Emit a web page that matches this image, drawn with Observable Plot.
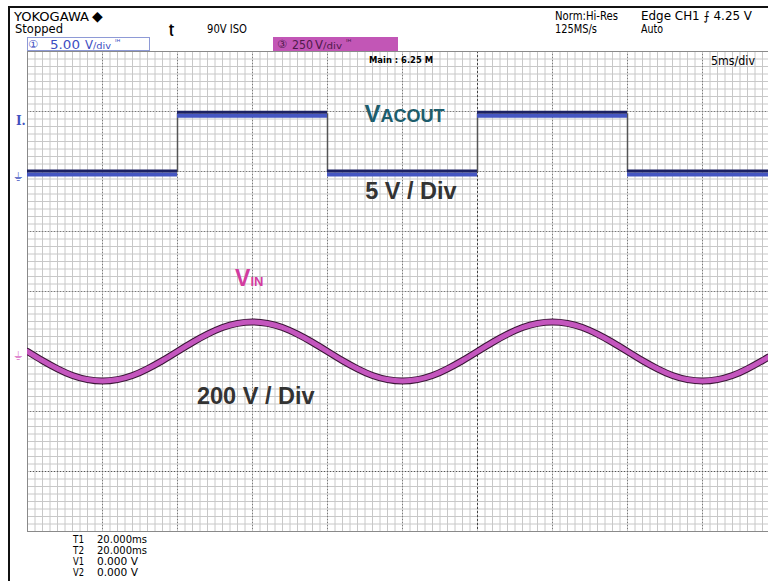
<!DOCTYPE html>
<html><head><meta charset="utf-8">
<script src="https://cdn.jsdelivr.net/npm/d3@7"></script>
<script src="https://cdn.jsdelivr.net/npm/@observablehq/plot@0.6"></script>
<style>
body{margin:0;background:#fff}
#chart svg{display:block}
</style>
</head><body><div id="chart"></div>
<script>
// ---- data ----
const timeMs = [0,1,2,3,4,5,6,7,8,9,10,11,12,13,14,15,16,17,18,19,20,21,22,23,24,25,26,27,28,29,30,31,32,33,34,35,36,37,38,39,40,41,42,43,44,45,46,47,48,49,49.4];
const vinVolts = [0,-38,-72,-100,-117,-123,-117,-100,-72,-38,0,38,72,100,117,123,117,100,72,38,0,-38,-72,-100,-117,-123,-117,-100,-72,-38,0,38,72,100,117,123,117,100,72,38,0,-38,-72,-100,-117,-123,-117,-100,-72,-38,-23];
const vacEdgesMs = [0,10,20,30,40,49.4];
const vacLevelsV = [0,4.9,0,4.9,0];
const ch1VoltsPerDiv = 5, ch1OffsetDiv = 1.983;
const ch3VoltsPerDiv = 250, ch3OffsetDiv = -1.0;
const xMajorMs = [0,5,10,15,20,25,35,40,45];
const xCenterMs = [30];
const yMajorDiv = [-2,-1,0,1,2,3];
const yDarkDiv = [-3];
const bottomLabels = ["T1","T2","V1","V2"];
const bottomValues = ["20.000ms","20.000ms","0.000 V","0.000 V"];

// ---- derived tables ----
const xMinorMs = d3.range(0, 49.5, 0.5);
const yMinorDiv = d3.range(-4, 4.001, 0.125);
const vinTable = timeMs.map((t, i) => ({t, y: ch3OffsetDiv + vinVolts[i] / ch3VoltsPerDiv}));
const vacSegs = vacLevelsV.map((v, i) => ({x1: vacEdgesMs[i], x2: vacEdgesMs[i + 1], y: ch1OffsetDiv + v / ch1VoltsPerDiv}));
const vacEdges = vacEdgesMs.slice(1, -1).map(t => ({t, lo: ch1OffsetDiv, hi: ch1OffsetDiv + d3.max(vacLevelsV) / ch1VoltsPerDiv}));

const plot = Plot.plot({
  width: 768, height: 581,
  marginLeft: 27, marginRight: 0, marginTop: 51, marginBottom: 50,
  x: {domain: [0, 49.4], axis: null},
  y: {domain: [-4, 4], axis: null},
  style: {background: "white", overflow: "visible"},
  marks: [
    Plot.ruleX(xMinorMs, {stroke: "#c8c8c8", strokeWidth: 1}),
    Plot.ruleY(yMinorDiv, {stroke: "#c8c8c8", strokeWidth: 1}),
    Plot.ruleX(xMajorMs, {stroke: "#7a7a7a", strokeWidth: 1, strokeDasharray: "1,2"}),
    Plot.ruleY(yMajorDiv, {stroke: "#7a7a7a", strokeWidth: 1, strokeDasharray: "1,2"}),
    Plot.ruleX(xCenterMs, {stroke: "#444", strokeWidth: 1, strokeDasharray: "2,2"}),
    Plot.ruleY(yDarkDiv, {stroke: "#555", strokeWidth: 1, strokeDasharray: "1,2"}),
    Plot.ruleX([0], {stroke: "#8a8a8a", strokeWidth: 1}),
    Plot.ruleY([-4, 4], {stroke: "#8a8a8a", strokeWidth: 1}),
    // VACOUT trace
    Plot.ruleX(vacEdges, {x: "t", y1: "lo", y2: "hi", stroke: "#555", strokeWidth: 1.5}),
    Plot.ruleY(vacSegs, {x1: "x1", x2: "x2", y: "y", stroke: "#4556c2", strokeWidth: 4, dy: 2}),
    Plot.ruleY(vacSegs, {x1: "x1", x2: "x2", y: "y", stroke: "#1c2162", strokeWidth: 3, dy: -1.5}),
    // VIN trace
    Plot.line(vinTable, {x: "t", y: "y", curve: "natural", stroke: "#3a1636", strokeWidth: 7, clip: true}),
    Plot.line(vinTable, {x: "t", y: "y", curve: "natural", stroke: "#c456be", strokeWidth: 5, clip: true})
  ]
});
document.getElementById("chart").appendChild(plot);

const svg = d3.select(plot);
const g = svg.append("g").attr("text-anchor", "start");
const sx = plot.scale("x"), sy = plot.scale("y");
const UI = "'Liberation Sans Narrow','DejaVu Sans Condensed','Arial Narrow',sans-serif";
const BOLD = "'Liberation Sans',Arial,sans-serif";
function txt(x, y, s, a = {}) {
  const t = g.append("text").attr("x", x).attr("y", y).text(s)
    .attr("font-family", a.ff || UI).attr("font-size", a.fs || 12)
    .attr("fill", a.fill || "#000").attr("font-weight", a.fw || "normal");
  if (a.w) t.attr("textLength", a.w).attr("lengthAdjust", "spacingAndGlyphs");
  return t;
}

// frame
g.append("line").attr("x1", 9).attr("x2", 9).attr("y1", 6).attr("y2", 581).attr("stroke", "#111").attr("stroke-width", 2);
g.append("line").attr("x1", 8).attr("x2", 768).attr("y1", 7).attr("y2", 7).attr("stroke", "#111").attr("stroke-width", 2);

// header
txt(14, 20.5, "YOKOGAWA", {fs: 12, w: 75});
txt(92, 21, "◆", {fs: 14, ff: "'DejaVu Sans',sans-serif"});
txt(15, 33, "Stopped", {fs: 12, w: 48});
txt(169, 33, "ʈ", {fs: 12, fw: "bold"});
txt(207, 33, "90V ISO", {fs: 12, w: 40});
txt(555, 20, "Norm:Hi-Res", {fs: 12, w: 63});
txt(555, 33, "125MS/s", {fs: 12, w: 42});
txt(641, 20, "Edge CH1 ⨍ 4.25 V", {fs: 12, w: 111});
txt(641, 33, "Auto", {fs: 12, w: 22});

// channel boxes
g.append("rect").attr("x", 27.5).attr("y", 37.5).attr("width", 122).attr("height", 13).attr("fill", "white").attr("stroke", "#8e9ad6");
const blue = "#3d4dc2";
txt(28, 48, "①", {fs: 11, fill: blue, ff: "'DejaVu Sans',sans-serif"});
txt(50, 48.5, "5.00", {fs: 13, fill: blue, w: 30});
txt(85, 48.5, "V", {fs: 13, fill: blue, w: 8});
txt(93, 48.5, "/div", {fs: 9, fill: blue, w: 18});
txt(115, 45, "ᴵᴴ", {fs: 8, fill: blue, ff: "'DejaVu Sans',sans-serif"});
g.append("rect").attr("x", 273).attr("y", 37).attr("width", 125).attr("height", 14).attr("fill", "#c256b6");
const dk = "#4e1a4a";
txt(277, 48, "③", {fs: 11, fill: dk, ff: "'DejaVu Sans',sans-serif"});
txt(292, 48.5, "250", {fs: 13, fill: dk, w: 21});
txt(315, 48.5, "V", {fs: 13, fill: dk, w: 8});
txt(323, 48.5, "/div", {fs: 9, fill: dk, w: 19});
txt(346, 45, "ᴵᴴ", {fs: 8, fill: dk, ff: "'DejaVu Sans',sans-serif"});

txt(369, 63, "Main : 6.25 M", {fs: 8, fw: "bold", w: 64});
txt(711, 65, "5ms/div", {fs: 12.5, w: 44});

// left markers
txt(16, 125, "I.", {fs: 12, fw: "bold", fill: "#4050c0", ff: "'DejaVu Serif',serif"});
txt(14, 181, "⏚", {fs: 12, fill: "#6a78cc", ff: "'DejaVu Sans',sans-serif"});
txt(14, 360, "⏚", {fs: 12, fill: "#e08ad0", ff: "'DejaVu Sans',sans-serif"});

// annotations (positioned in data coordinates)
const vac = txt(sx.apply(22.5), sy.apply(2.82), "", {ff: BOLD, fw: "bold", fill: "#1d5d6c"});
vac.append("tspan").attr("font-size", 24).text("V");
vac.append("tspan").attr("font-size", 18).text("ACOUT");
txt(sx.apply(22.55), sy.apply(1.53), "5 V / Div", {ff: BOLD, fw: "bold", fs: 23.5, fill: "#333"});
const vin = txt(sx.apply(13.87), sy.apply(0.08), "", {ff: BOLD, fw: "bold", fill: "#d23c9f"});
vin.append("tspan").attr("font-size", 23).text("V");
vin.append("tspan").attr("font-size", 13).text("IN");
txt(sx.apply(11.33), sy.apply(-1.88), "200 V / Div", {ff: BOLD, fw: "bold", fs: 23.5, fill: "#333"});

// bottom cursor readouts
bottomLabels.forEach((l, i) => {
  txt(73, 542.5 + i * 11, l, {fs: 10, w: 11});
  txt(97, 542.5 + i * 11, bottomValues[i], {fs: 10, w: i < 2 ? 50 : 41});
});
</script></body></html>
